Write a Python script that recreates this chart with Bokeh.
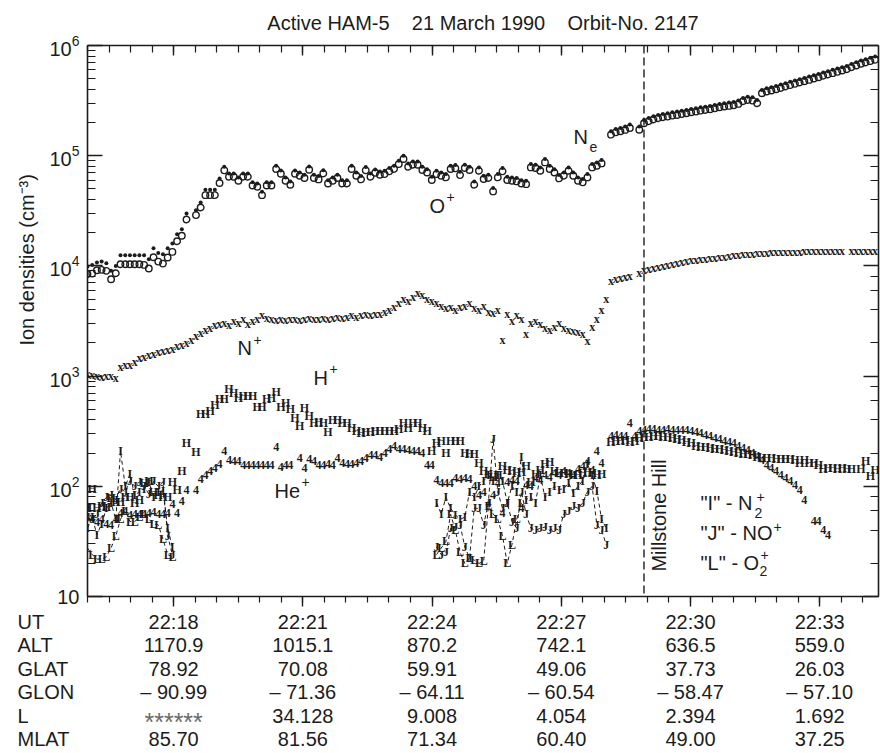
import math
import numpy as np
from bokeh.plotting import figure
from bokeh.layouts import column
from bokeh.models import (Label, Span, LinearAxis, LogAxis, SingleIntervalTicker,
                          LogTicker, Range1d, CustomJSTickFormatter, LogTickFormatter)
from bokeh.core.properties import value
from bokeh.embed import file_html
from bokeh.resources import INLINE

# ------------------------------------------------------------------ data
T_START = 16.0    # first sample, minutes after 22:00 UT
T_STEP = 0.1095   # sampling interval, minutes

NE_LOG = [
    3.994, 4.009, 4.030, 4.039, 4.024, 3.955, 4.000, 4.097, 4.097, 4.097,
    4.097, 4.097, 4.097, 4.061, 4.161, 4.118, 4.106, 4.161, 4.203, 4.288,
    4.333, 4.476, None, 4.506, 4.576, 4.691, 4.691, 4.691, 4.794, 4.900,
    4.839, 4.839, 4.803, 4.839, 4.839, 4.760, 4.748, 4.672, 4.760, 4.760,
    4.909, 4.866, 4.803, 4.766, 4.866, 4.848, 4.827, 4.903, 4.827, 4.815,
    4.869, 4.778, 4.803, 4.827, 4.778, 4.778, 4.909, 4.848, 4.815, 4.897,
    4.839, 4.875, 4.857, 4.863, 4.888, 4.909, 4.954, 5.000, 4.930, 4.948,
    4.948, 4.900, 4.878, 4.809, 4.863, 4.848, 4.833, 4.909, 4.915, 4.854,
    4.918, 4.900, 4.766, 4.894, 4.818, 4.827, 4.706, 4.833, 4.888, 4.809,
    4.803, 4.797, 4.778, 4.772, 4.924, 4.918, 4.894, 4.969, 4.909, 4.878,
    4.824, 4.848, 4.894, 4.848, 4.803, 4.788, 4.833, 4.924, 4.939, 4.960,
    None, 5.221, 5.242, 5.252, 5.264, 5.282, None, 5.265, 5.324, 5.342,
    5.358, 5.370, 5.379, 5.385, 5.394, 5.400, 5.409, 5.415, 5.424, 5.430,
    5.439, 5.445, 5.452, 5.461, 5.470, 5.476, 5.482, 5.488, 5.500, 5.524,
    5.536, 5.530, 5.506, 5.597, 5.612, 5.621, 5.633, 5.645, 5.658, 5.670,
    5.682, 5.694, 5.706, 5.718, 5.730, 5.742, 5.755, 5.767, 5.779, 5.791,
    5.803, 5.815, 5.833, 5.848, 5.864, 5.876, 5.888, 5.900,
]

O_PLUS_LOG = [
    3.925, 3.930, 3.961, 3.964, 3.955, 3.879, 3.933, 4.015, 4.015, 4.015,
    4.015, 4.015, 4.009, 3.976, 4.079, 4.039, 4.021, 4.076, 4.127, 4.224,
    4.273, 4.421, None, 4.461, 4.530, 4.642, 4.642, 4.642, 4.752, 4.867,
    4.809, 4.809, 4.773, 4.809, 4.809, 4.730, 4.718, 4.642, 4.730, 4.730,
    4.879, 4.836, 4.773, 4.736, 4.836, 4.818, 4.797, 4.873, 4.797, 4.785,
    4.839, 4.748, 4.773, 4.797, 4.748, 4.748, 4.879, 4.818, 4.785, 4.867,
    4.809, 4.845, 4.827, 4.833, 4.858, 4.879, 4.924, 4.970, 4.900, 4.918,
    4.918, 4.870, 4.848, 4.779, 4.833, 4.818, 4.803, 4.879, 4.885, 4.824,
    4.888, 4.870, 4.736, 4.864, 4.788, 4.797, 4.676, 4.803, 4.858, 4.779,
    4.773, 4.767, 4.748, 4.742, 4.894, 4.888, 4.864, 4.939, 4.879, 4.848,
    4.794, 4.818, 4.864, 4.818, 4.773, 4.758, 4.803, 4.894, 4.909, 4.930,
    None, 5.191, 5.212, 5.222, 5.234, 5.252, None, 5.235, 5.294, 5.312,
    5.328, 5.340, 5.349, 5.355, 5.364, 5.370, 5.379, 5.385, 5.394, 5.400,
    5.409, 5.415, 5.422, 5.431, 5.440, 5.446, 5.452, 5.458, 5.470, 5.494,
    5.506, 5.500, 5.476, 5.567, 5.582, 5.591, 5.603, 5.615, 5.628, 5.640,
    5.652, 5.664, 5.676, 5.688, 5.700, 5.712, 5.725, 5.737, 5.749, 5.761,
    5.773, 5.785, 5.803, 5.818, 5.834, 5.846, 5.858, 5.870,
]

N_PLUS_LOG = [
    3.02, 3.01, 3.00, 2.99, 3.00, 3.00, 2.98, 3.08, 3.10, 3.10,
    3.13, 3.16, 3.17, 3.19, 3.20, 3.22, 3.23, 3.24, 3.25, 3.27,
    3.28, 3.30, 3.33, 3.36, 3.39, 3.42, 3.44, 3.46, 3.47, 3.48,
    3.46, 3.50, 3.48, 3.52, 3.47, 3.50, 3.52, 3.55, 3.53, 3.52,
    3.51, 3.52, 3.51, 3.52, 3.52, 3.51, 3.52, 3.53, 3.52, 3.52,
    3.53, 3.52, 3.53, 3.54, 3.53, 3.54, 3.55, 3.54, 3.55, 3.56,
    3.55, 3.56, 3.56, 3.58, 3.60, 3.63, 3.66, 3.70, 3.68, 3.72,
    3.75, 3.74, 3.70, 3.68, 3.66, 3.64, 3.62, 3.63, 3.60, 3.63,
    3.64, 3.66, 3.62, 3.60, 3.64, 3.58, 3.57, 3.60, 3.33, 3.56,
    3.50, 3.55, 3.52, 3.38, 3.48, 3.50, 3.47, 3.44, 3.42, 3.45,
    3.48, 3.44, 3.42, 3.41, 3.40, 3.38, 3.32, 3.45, 3.52, 3.60,
    3.70, 3.86, 3.88, 3.89, 3.90, 3.91, None, 3.94, 3.96, 3.97,
    3.98, 3.99, 4.00, 4.01, 4.02, 4.03, 4.035, 4.04, 4.05, 4.055,
    4.06, 4.065, 4.07, 4.075, 4.08, 4.085, 4.09, 4.095, 4.10, 4.105,
    4.11, 4.112, 4.115, 4.118, 4.12, 4.122, 4.125, 4.127, 4.128, 4.13,
    4.13, 4.13, 4.131, 4.132, 4.132, 4.133, 4.133, 4.134, 4.134, 4.134,
    4.135, None, 4.135, 4.135, 4.136, 4.136, 4.137, 4.137,
]

H_PLUS_LOG = [
    1.80, 1.98, 1.80, 1.82, 1.81, 1.89, 1.86, 1.86, 1.90, 1.90,
    1.85, 1.88, 2.03, 2.05, 1.95, 1.92, 1.90, 1.90, 2.04, 1.97,
    2.14, 2.39, None, 2.31, 2.657, 2.657, 2.682, 2.742, 2.788, 2.788,
    2.879, 2.848, 2.803, 2.818, 2.818, 2.818, 2.721, 2.721, 2.788, 2.797,
    2.858, 2.718, 2.758, 2.697, 2.621, 2.545, 2.712, 2.636, 2.576, 2.582,
    2.576, 2.491, 2.606, 2.606, 2.576, 2.576, 2.530, 2.500, 2.485, 2.491,
    2.494, 2.50, 2.50, 2.50, 2.50, 2.50, 2.52, 2.576, 2.53, 2.576,
    2.576, 2.53, 2.50, 2.32, 2.39, 2.41, 2.30, 2.41, 2.41, 2.41,
    2.30, 2.29, 2.29, 2.21, 2.14, 2.11, 2.08, 2.10, 2.18, 2.15,
    2.14, 2.12, 2.13, 2.18, 2.04, 2.11, 2.15, 2.20, 2.22, 2.14,
    2.12, 2.12, 2.11, 2.10, 2.10, 2.12, 2.13, 2.12, 2.10, 2.11,
    None, 2.40, 2.41, 2.41, 2.42, 2.40, 2.41, 2.44, 2.45, 2.45,
    2.455, 2.455, 2.45, 2.45, 2.44, 2.43, 2.42, 2.40, 2.39, 2.37,
    2.36, 2.355, 2.35, 2.34, 2.335, 2.33, 2.32, 2.31, 2.30, 2.295,
    2.29, 2.28, 2.27, 2.26, 2.255, 2.255, 2.25, 2.25, 2.245, 2.245,
    2.24, 2.21, 2.24, 2.21, 2.21, 2.19, 2.16, 2.17, 2.17, 2.16,
    2.165, 2.16, 2.16, None, 2.155, 2.23, 2.09, 2.15,
]

HE_PLUS_LOG = [
    1.72, 1.70, 1.68, 1.70, 1.66, 1.65, 1.70, 1.76, 1.78, 1.74,
    1.745, 1.745, 1.745, 1.76, 1.77, 1.75, 1.75, 1.76, 1.84, 1.755,
    1.87, 1.97, None, 1.97, 2.07, 2.10, 2.136, 2.167, 2.20, 2.318,
    2.242, 2.227, 2.233, 2.197, 2.191, 2.191, 2.191, 2.191, 2.191, 2.191,
    2.355, 2.173, 2.191, 2.197, None, 2.258, 2.167, 2.252, 2.227, 2.197,
    2.197, 2.20, 2.197, 2.258, 2.212, 2.203, 2.203, 2.212, 2.227, 2.258,
    2.288, 2.288, 2.27, 2.30, 2.34, 2.364, 2.343, 2.343, 2.333, 2.318,
    2.318, 2.30, 2.197, 2.197, 2.061, 2.03, 2.03, 2.03, 2.076, 2.07,
    2.076, 2.07, 2.00, 1.924, 1.95, 1.85, 1.92, 2.03, 1.76, 2.04,
    2.06, 2.05, 1.80, 2.015, 2.00, 2.076, 2.06, 2.10, 2.08, 2.12,
    2.10, 2.14, 2.12, 2.10, 2.16, 2.18, 2.227, 2.15, 2.318, 2.212,
    None, 2.46, 2.47, 2.46, 2.455, 2.576, 2.455, 2.50, 2.515, 2.52,
    2.52, 2.515, 2.515, 2.52, 2.51, 2.515, 2.51, 2.51, 2.50, 2.49,
    2.485, 2.47, 2.455, 2.439, 2.43, 2.415, 2.40, 2.394, 2.37, 2.35,
    2.333, 2.30, 2.273, 2.24, 2.197, 2.17, 2.136, 2.10, 2.076, 2.045,
    2.015, 1.97, 1.879, None, 1.682, 1.682, 1.606, 1.561, None, None,
    None, None, None, None, None, None, None, None,
]

# minor molecular ions: "I" = N2+, "J" = NO+, "L" = O2+
N2_PLUS_LOG = ([1.62, 1.72, 1.56, 1.66, 1.80, 1.85, 1.70, 2.32, 2.00, 2.11,
                1.92, 1.95, 1.98, 2.04, 1.90, 1.95, 1.96, 1.62, 1.45]
               + [None] * 55
               + [1.85, 1.75, 1.90, 1.80, 1.74, 1.70, 1.72, 1.95, 1.90, 2.00,
                  2.05, 2.10, 2.05, 2.10, 2.05, 1.85, 2.00, 1.95, 2.27, 1.88,
                  1.90, 1.85, 2.10, 1.90, 1.95, 2.00, 1.97, 1.98, 2.03, 1.94,
                  2.00, 2.05, 2.20, 2.10, 1.96, 1.70, 1.62]
               + [None] * 57)

NO_PLUS_LOG = ([1.80, 1.70, 1.75, 1.85, 1.90, 1.92, 1.88, 1.98, 1.95, 2.05,
                2.00, 2.04, 2.00, 1.93, 2.045, 2.00, 2.04, 1.55, 1.38]
               + [None] * 55
               + [1.45, 1.38, 1.40, 1.62, 1.63, 1.65, 1.45, 1.35, 1.80, 1.80,
                  1.65, 1.85, 2.43, 1.95, 1.80, 1.85, 1.68, 1.62, 1.95, 1.75,
                  1.62, 1.60, 1.62, 1.63, 1.60, 1.62, 1.60, 1.75, 1.78, 1.82,
                  1.80, 1.85, 1.95, 2.00, 1.65, 1.60, 1.47]
               + [None] * 57)

O2_PLUS_LOG = ([1.44, 1.38, 1.34, 1.34, 1.36, 1.44, 1.55, 1.70, 1.78, 1.68,
                1.68, 1.72, 1.75, 1.70, 1.66, 1.65, 1.52, 1.38, 1.36]
               + [None] * 55
               + [1.38, 1.44, 1.50, 1.745, 1.60, 1.40, 1.30, 1.35, 1.33, 1.30,
                  1.32, 1.82, 1.75, 1.70, 1.55, 1.30, 1.47, 1.70, 1.85]
               + [None] * 75)

MILLSTONE_T = 28.92   # conjunction with Millstone Hill (minutes after 22:00)

TABLE_T = [18, 21, 24, 27, 30, 33]
ROW_NAMES = ["UT", "ALT", "GLAT", "GLON", "L", "MLAT"]
UT = ["22:18", "22:21", "22:24", "22:27", "22:30", "22:33"]
ALT = ["1170.9", "1015.1", "870.2", "742.1", "636.5", "559.0"]
GLAT = ["78.92", "70.08", "59.91", "49.06", "37.73", "26.03"]
GLON = ["\u2013 90.99", "\u2013 71.36", "\u2013 64.11", "\u2013 60.54", "\u2013 58.47", "\u2013 57.10"]
LSHELL = ["******", "34.128", "9.008", "4.054", "2.394", "1.692"]
MLAT = ["85.70", "81.56", "71.34", "60.40", "49.00", "37.25"]

# ------------------------------------------------------------------ layout
W = 880
H_MAIN, H_TAB = 608, 145
FR_L, FR_R, FR_T, FR_B = 87, 878, 45, 596
X0, X1 = 16.0, 34.365
PX_PER_MIN = (FR_R - FR_L) / (X1 - X0)
PX_PER_DEC = (FR_B - FR_T) / 5.0
INK = "#1c1c1c"
SANS = "Liberation Sans"
SERIF = "Liberation Serif"
SP4 = "\u00a0" * 4


def dx(px):
    return X0 + (px - FR_L) / PX_PER_MIN


def dy(py):
    return 10 ** (6.0 - (py - FR_T) / PX_PER_DEC)


p = figure(width=W, height=H_MAIN, x_range=Range1d(X0, X1), y_range=Range1d(10, 1e6),
           y_axis_type="log", output_backend="svg", toolbar_location=None,
           min_border_left=FR_L, min_border_right=W - FR_R,
           min_border_top=FR_T, min_border_bottom=H_MAIN - FR_B,
           title="Active HAM-5" + SP4 + "21 March 1990" + SP4 + "Orbit-No. 2147")
p.title.align = "center"
p.title.vertical_align = "top"
p.title.text_font = SANS
p.title.text_font_size = "20px"
p.title.text_font_style = "normal"
p.title.text_color = INK
p.title.standoff = 19
p.outline_line_color = None
p.xgrid.visible = False
p.ygrid.visible = False
p.background_fill_color = "white"
p.border_fill_color = "white"

blank = CustomJSTickFormatter(code="return '';")
xticker = SingleIntervalTicker(interval=3, num_minor_ticks=6)


def style_axis(ax, mj_in, mj_out, mn_in, mn_out, labels=False):
    if not labels:
        ax.formatter = blank
        ax.major_label_text_font_size = "1px"
    ax.major_tick_in = mj_in
    ax.major_tick_out = mj_out
    ax.minor_tick_in = mn_in
    ax.minor_tick_out = mn_out
    ax.axis_line_color = INK
    ax.axis_line_width = 1.6
    ax.major_tick_line_color = INK
    ax.major_tick_line_width = 1.4
    ax.minor_tick_line_color = INK
    ax.minor_tick_line_width = 1.2
    ax.major_label_standoff = 0


xb = p.xaxis[0]
xb.ticker = xticker
style_axis(xb, 0, 10, 0, 6)

yl = p.yaxis[0]
style_axis(yl, 15, 0, 8, 0, labels=True)
yl.formatter = LogTickFormatter()
yl.major_label_overrides = {10: "10"}
yl.major_label_text_font = SANS
yl.major_label_text_font_size = "20px"
yl.major_label_text_color = INK
yl.major_label_standoff = 8
yl.axis_label = "\u00a0" * 22 + "Ion densities (cm\u207b\u00b3)"
yl.axis_label_text_font = SANS
yl.axis_label_text_font_size = "20px"
yl.axis_label_text_font_style = "normal"
yl.axis_label_text_color = INK
yl.axis_label_standoff = 8

xtop = LinearAxis(ticker=xticker)
style_axis(xtop, 10, 0, 7, 0)
p.add_layout(xtop, "above")
yr = LogAxis(ticker=LogTicker())
style_axis(yr, 15, 0, 8, 0)
p.add_layout(yr, "right")

# ------------------------------------------------------------------ series
t_all = np.array([T_START + T_STEP * i for i in range(len(NE_LOG))])


def pts(vals):
    xs = [t_all[i] for i, v in enumerate(vals) if v is not None]
    ys = [10 ** v for v in vals if v is not None]
    return xs, ys


def nan_line(vals):
    return np.array([10 ** v if v is not None else np.nan for v in vals])


for vals in (N2_PLUS_LOG, NO_PLUS_LOG, O2_PLUS_LOG):
    p.line(t_all, nan_line(vals), line_color=INK, line_width=1.0, line_dash="4 3")

xs, ys = pts(O_PLUS_LOG)
p.scatter(xs, ys, marker="circle", size=6.5, fill_color=None, line_color=INK, line_width=1.4)
xs, ys = pts(NE_LOG)
p.scatter(xs, ys, marker="circle", size=4, fill_color=INK, line_color=None)


def char_series(vals, ch, size="12px"):
    xs, ys = pts(vals)
    p.text(xs, ys, text=[ch] * len(xs), text_font=value(SERIF), text_font_style="bold",
           text_font_size=size, text_align="center", text_baseline="middle", text_color=INK)


char_series(N_PLUS_LOG, "x", "12px")
char_series(H_PLUS_LOG, "H")
char_series(HE_PLUS_LOG, "4")
char_series(N2_PLUS_LOG, "I")
char_series(NO_PLUS_LOG, "J")
char_series(O2_PLUS_LOG, "L")

p.add_layout(Span(location=MILLSTONE_T, dimension="height", line_color=INK,
                  line_width=1.4, line_dash="8 4"))


def lab(text, px, py, size=20, align="left", angle=0.0):
    p.add_layout(Label(x=dx(px), y=dy(py), text=text, text_font=SANS,
                       text_font_size=f"{size}px", text_align=align,
                       text_baseline="middle", angle=angle, text_color=INK))


lab("N", 573, 136)
lab("e", 589, 146, 14)
lab("O", 429, 205)
lab("+", 446, 196, 14)
lab("N", 237, 347)
lab("+", 253, 339, 14)
lab("H", 313, 377)
lab("+", 329, 368, 14)
lab("He", 274, 490)
lab("+", 301, 481, 14)

lab("Millstone Hill", 658, 515, 20, "center", math.pi / 2)

lab('"I" - N', 700, 502)
lab("2", 754, 512, 14)
lab("+", 756, 496, 14)
lab('"J" - NO', 700, 532)
lab("+", 773, 526, 14)
lab('"L" - O', 700, 562)
lab("2", 759, 570, 14)
lab("+", 760, 554, 14)

# ------------------------------------------------------------------ table under the axis
tab = figure(width=W, height=H_TAB, x_range=Range1d(dx(0), dx(W)), y_range=Range1d(H_TAB, 0),
             output_backend="svg", toolbar_location=None, x_axis_location=None,
             y_axis_location=None, min_border=0, min_border_left=0, min_border_right=0,
             min_border_top=0, min_border_bottom=0)
tab.outline_line_color = None
tab.xgrid.visible = False
tab.ygrid.visible = False
tab.background_fill_color = "white"
tab.border_fill_color = "white"
for fig in (p, tab):
    if "frame_align" in fig.properties():
        fig.frame_align = False

ROW_Y = [13, 36.5, 60, 83.5, 107, 130.5]
rows = [UT, ALT, GLAT, GLON, LSHELL, MLAT]
tab.text([dx(17)] * len(ROW_NAMES), ROW_Y, text=ROW_NAMES, text_font=value(SANS),
         text_font_size="20px", text_align="left", text_baseline="middle", text_color=INK)
cx, cy, ct, sx, sy, st = [], [], [], [], [], []
for ry, vals in zip(ROW_Y, rows):
    for tm, txt in zip(TABLE_T, vals):
        if txt.startswith("*"):
            sx.append(tm); sy.append(ry + 6); st.append(txt)
        else:
            cx.append(tm); cy.append(ry); ct.append(txt)
tab.text(cx, cy, text=ct, text_font=value(SANS), text_font_size="20px",
         text_align="center", text_baseline="middle", text_color=INK)
tab.text(sx, sy, text=st, text_font=value(SANS), text_font_size="25px",
         text_align="center", text_baseline="middle", text_color="#6a6a6a")

layout = column(p, tab, spacing=0)
open("out.html", "w").write(file_html(layout, INLINE))
